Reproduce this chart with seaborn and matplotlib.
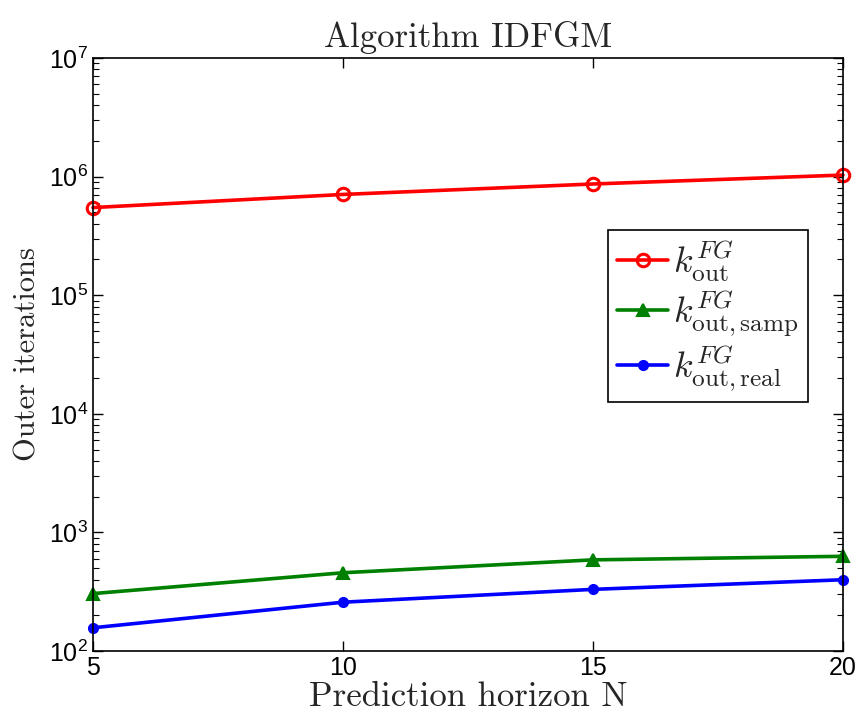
import matplotlib
matplotlib.use("Agg")
import matplotlib.pyplot as plt
import seaborn as sns
import pandas as pd
from matplotlib.ticker import LogLocator, FixedLocator, NullFormatter

N = [5, 10, 15, 20]
k_out = [548000, 707000, 866000, 1030000]
k_samp = [305, 457, 587, 629]
k_real = [157, 258, 331, 399]
labels = [r"$k^{FG}_{\mathrm{out}}$", r"$k^{FG}_{\mathrm{out,samp}}$", r"$k^{FG}_{\mathrm{out,real}}$"]

df = pd.DataFrame({
    "N": N * 3,
    "val": k_out + k_samp + k_real,
    "series": [labels[0]] * 4 + [labels[1]] * 4 + [labels[2]] * 4,
})

sns.set_style("ticks")
plt.rcParams["mathtext.fontset"] = "cm"
plt.rcParams["font.family"] = ["Liberation Sans", "DejaVu Sans"]

fig = plt.figure(figsize=(8.66, 7.14), dpi=100)
ax = fig.add_axes([0.1074, 0.0882, 0.8660, 0.8306])

styles = {
    labels[0]: dict(color=(1, 0, 0), marker="o", mfc="none", mec=(1, 0, 0), ms=9, mew=2.2),
    labels[1]: dict(color=(0, 0.5, 0), marker="^", mfc=(0, 0.5, 0), mec=(0, 0.5, 0), ms=9, mew=1.5),
    labels[2]: dict(color=(0, 0, 1), marker="o", mfc=(0, 0, 1), mec=(0, 0, 1), ms=7, mew=1),
}
for lab in labels:
    sub = df[df["series"] == lab]
    st = styles[lab]
    sns.lineplot(data=sub, x="N", y="val", ax=ax, color=st["color"], lw=2.6,
                 marker=st["marker"], markerfacecolor=st["mfc"], markeredgecolor=st["mec"],
                 markersize=st["ms"], markeredgewidth=st["mew"], label=lab, clip_on=False)

ax.set_yscale("log")
ax.set_ylim(1e2, 1e7)
ax.set_xlim(5, 20)
ax.xaxis.set_major_locator(FixedLocator([5, 10, 15, 20]))
ax.yaxis.set_major_locator(LogLocator(base=10, numticks=10))
ax.yaxis.set_minor_locator(LogLocator(base=10, subs=range(2, 10), numticks=20))
ax.yaxis.set_minor_formatter(NullFormatter())

ax.tick_params(axis="both", which="both", direction="in", top=True, right=True,
               labelsize=18, colors="black")
ax.tick_params(axis="both", which="major", length=7, width=1)
ax.tick_params(axis="y", which="minor", length=4, width=0.8)
ax.tick_params(axis="x", which="minor", length=0)
for sp in ax.spines.values():
    sp.set_visible(True)
    sp.set_linewidth(1.2)
    sp.set_color("black")

ax.set_title("Algorithm IDFGM", fontsize=25, family="cmr10", pad=8)
ax.set_xlabel("Prediction horizon N", fontsize=25, family="cmr10", labelpad=1)
ax.set_ylabel("Outer iterations", fontsize=22, family="cmr10", labelpad=5)

leg = ax.legend(loc="upper left", bbox_to_anchor=(0.687, 0.71), fontsize=26, frameon=True,
                fancybox=False, edgecolor="black", framealpha=1, handlelength=1.4,
                borderpad=0.25, labelspacing=0.12, handletextpad=0.15, borderaxespad=0)
leg.get_frame().set_linewidth(1.2)

fig.savefig("out.png", dpi=100)
